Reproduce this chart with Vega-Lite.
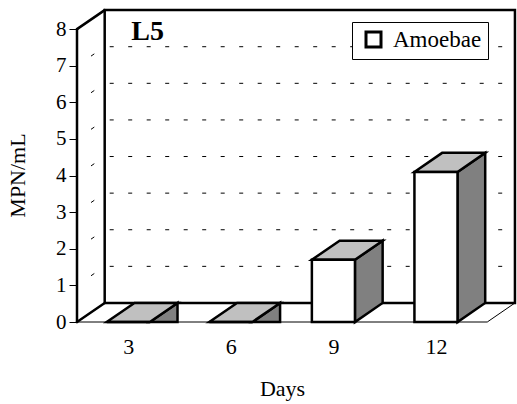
{
  "$schema": "https://vega.github.io/schema/vega-lite/v6.json",
  "width": 440,
  "height": 313,
  "autosize": "none",
  "padding": {"left": 77, "top": 9, "right": 0, "bottom": 82},
  "background": "white",
  "config": {
    "view": {"stroke": null},
    "font": "Liberation Serif",
    "axisY": {"tickCount": 9, "labelOverlap": false, "labelFlush": false, "format": "d"}
  },
  "datasets": {
    "amoebae": [
      {"day": "3", "mpn": 0},
      {"day": "6", "mpn": 0},
      {"day": "9", "mpn": 1.7},
      {"day": "12", "mpn": 4.1}
    ],
    "levels": [
      {"level": 1}, {"level": 2}, {"level": 3}, {"level": 4},
      {"level": 5}, {"level": 6}, {"level": 7}
    ]
  },
  "layer": [
    {
      "data": {"name": "levels"},
      "transform": [{"calculate": "datum.level + 0.52", "as": "gy"}],
      "mark": {"type": "rule", "color": "black", "strokeWidth": 1, "strokeDash": [4, 14.5], "strokeDashOffset": -5},
      "encoding": {
        "x": {"datum": 0.27, "type": "quantitative", "scale": {"domain": [0, 4.29], "nice": false, "zero": false}},
        "x2": {"datum": 4.27},
        "y": {
          "field": "gy", "type": "quantitative",
          "scale": {"domain": [0, 8.55], "nice": false, "zero": false},
          "axis": {
            "title": "MPN/mL", "values": [0, 1, 2, 3, 4, 5, 6, 7, 8], "format": "d", "tickCount": 9,
            "domain": false, "grid": false, "ticks": true, "tickSize": 8, "tickColor": "black", "tickWidth": 1,
            "labelPadding": 3, "labelFont": "Liberation Serif", "labelFontSize": 21, "labelColor": "black",
            "labelFlush": false, "labelOverlap": false,
            "titleFont": "Liberation Serif", "titleFontSize": 22, "titleFontWeight": "normal", "titleColor": "black",
            "titleAngle": 270, "titleX": -60, "titleY": 166, "titleAlign": "center", "titleBaseline": "middle"
          }
        }
      }
    },
    {
      "data": {"name": "levels"},
      "transform": [{"calculate": "datum.level + 0.52", "as": "gy"}],
      "mark": {"type": "rule", "color": "black", "strokeWidth": 1, "strokeDash": [4, 60], "strokeDashOffset": -17},
      "encoding": {
        "x": {"datum": 0, "type": "quantitative", "scale": {"domain": [0, 4.29], "nice": false, "zero": false}},
        "x2": {"datum": 0.27},
        "y": {"field": "level", "type": "quantitative", "scale": {"domain": [0, 8.55], "nice": false, "zero": false}},
        "y2": {"field": "gy"}
      }
    },
    {
      "data": {"values": [{}]},
      "mark": {"type": "rect", "fillOpacity": 0, "stroke": "black", "strokeWidth": 2.5},
      "encoding": {
        "x": {"datum": 0.27, "type": "quantitative", "scale": {"domain": [0, 4.29], "nice": false, "zero": false}},
        "x2": {"datum": 4.27},
        "y": {"datum": 0.52, "type": "quantitative", "scale": {"domain": [0, 8.55], "nice": false, "zero": false}},
        "y2": {"datum": 8.52}
      }
    },
    {
      "data": {"values": [{}]},
      "mark": {"type": "rule", "color": "black", "strokeWidth": 2.5, "strokeCap": "round"},
      "encoding": {
        "x": {"datum": 0, "type": "quantitative", "scale": {"domain": [0, 4.29], "nice": false, "zero": false}},
        "y": {"datum": 0, "type": "quantitative", "scale": {"domain": [0, 8.55], "nice": false, "zero": false}},
        "y2": {"datum": 8}
      }
    },
    {
      "data": {"values": [{}]},
      "mark": {"type": "rule", "color": "black", "strokeWidth": 2.5, "strokeCap": "round"},
      "encoding": {
        "x": {"datum": 0, "type": "quantitative", "scale": {"domain": [0, 4.29], "nice": false, "zero": false}},
        "x2": {"datum": 0.27},
        "y": {"datum": 8, "type": "quantitative", "scale": {"domain": [0, 8.55], "nice": false, "zero": false}},
        "y2": {"datum": 8.52}
      }
    },
    {
      "data": {"values": [{}]},
      "mark": {"type": "rule", "color": "black", "strokeWidth": 2.5, "strokeCap": "round"},
      "encoding": {
        "x": {"datum": 0, "type": "quantitative", "scale": {"domain": [0, 4.29], "nice": false, "zero": false}},
        "x2": {"datum": 0.27},
        "y": {"datum": 0, "type": "quantitative", "scale": {"domain": [0, 8.55], "nice": false, "zero": false}},
        "y2": {"datum": 0.52}
      }
    },
    {
      "data": {"values": [{}]},
      "mark": {"type": "rule", "color": "black", "strokeWidth": 1},
      "encoding": {
        "x": {"datum": 0, "type": "quantitative", "scale": {"domain": [0, 4.29], "nice": false, "zero": false}},
        "x2": {"datum": 4},
        "y": {"datum": 0, "type": "quantitative", "scale": {"domain": [0, 8.55], "nice": false, "zero": false}}
      }
    },
    {
      "data": {"values": [{}]},
      "mark": {"type": "rule", "color": "black", "strokeWidth": 1},
      "encoding": {
        "x": {"datum": 4, "type": "quantitative", "scale": {"domain": [0, 4.29], "nice": false, "zero": false}},
        "x2": {"datum": 4.27},
        "y": {"datum": 0, "type": "quantitative", "scale": {"domain": [0, 8.55], "nice": false, "zero": false}},
        "y2": {"datum": 0.52}
      }
    },
    {
      "data": {"name": "amoebae"},
      "transform": [
        {"window": [{"op": "row_number", "as": "idx"}]},
        {"calculate": "datum.idx - 0.29", "as": "R"},
        {"calculate": "[0, 1]", "as": "t"},
        {"flatten": ["t"]},
        {"calculate": "datum.R + datum.t * 0.27", "as": "sx"},
        {"calculate": "datum.mpn > 0 ? datum.t * 0.52 : 0", "as": "sy"},
        {"calculate": "datum.mpn + datum.t * 0.52", "as": "sy2"}
      ],
      "mark": {"type": "area", "orient": "vertical", "fill": "#808080", "stroke": "black", "strokeWidth": 2.5, "strokeJoin": "miter"},
      "encoding": {
        "x": {"field": "sx", "type": "quantitative", "scale": {"domain": [0, 4.29], "nice": false, "zero": false}},
        "y": {"field": "sy2", "type": "quantitative", "stack": null, "scale": {"domain": [0, 8.55], "nice": false, "zero": false}},
        "y2": {"field": "sy"},
        "detail": {"field": "day", "type": "nominal"}
      }
    },
    {
      "data": {"name": "amoebae"},
      "transform": [
        {"window": [{"op": "row_number", "as": "idx"}]},
        {"calculate": "datum.idx - 0.71", "as": "L"},
        {"calculate": "datum.idx - 0.29", "as": "R"},
        {"calculate": "[0, 1]", "as": "t"},
        {"flatten": ["t"]},
        {"calculate": "datum.L + datum.t * 0.27", "as": "tx"},
        {"calculate": "datum.R + datum.t * 0.27", "as": "tx2"},
        {"calculate": "datum.mpn + datum.t * 0.52", "as": "ty"}
      ],
      "mark": {"type": "area", "orient": "horizontal", "fill": "#C0C0C0", "stroke": "black", "strokeWidth": 2.5, "strokeJoin": "miter"},
      "encoding": {
        "y": {"field": "ty", "type": "quantitative", "scale": {"domain": [0, 8.55], "nice": false, "zero": false}},
        "x": {"field": "tx", "type": "quantitative", "stack": null, "scale": {"domain": [0, 4.29], "nice": false, "zero": false}},
        "x2": {"field": "tx2"},
        "detail": {"field": "day", "type": "nominal"}
      }
    },
    {
      "data": {"name": "amoebae"},
      "transform": [
        {"window": [{"op": "row_number", "as": "idx"}]},
        {"calculate": "datum.idx - 0.71", "as": "L"},
        {"calculate": "datum.idx - 0.29", "as": "R"}
      ],
      "mark": {"type": "rect", "stroke": "black", "strokeWidth": 2.5, "strokeJoin": "miter"},
      "encoding": {
        "x": {
          "field": "L", "type": "quantitative",
          "scale": {"domain": [0, 4.29], "nice": false, "zero": false},
          "axis": {
            "title": "Days", "values": [0.5, 1.5, 2.5, 3.5],
            "labelExpr": "['3','6','9','12'][floor(datum.value)]",
            "ticks": false, "domain": false, "grid": false,
            "labelFont": "Liberation Serif", "labelFontSize": 22, "labelColor": "black",
            "labelBaseline": "alphabetic", "labelPadding": 31, "labelFlush": false, "labelOverlap": false,
            "titleFont": "Liberation Serif", "titleFontSize": 22, "titleFontWeight": "normal", "titleColor": "black",
            "titleX": 205, "titleY": 73, "titleBaseline": "alphabetic", "titleAlign": "center"
          }
        },
        "x2": {"field": "R"},
        "y": {
          "field": "mpn", "type": "quantitative",
          "scale": {"domain": [0, 8.55], "nice": false, "zero": false},
          "axis": {
            "title": "MPN/mL", "values": [0, 1, 2, 3, 4, 5, 6, 7, 8], "format": "d", "tickCount": 9,
            "domain": false, "grid": false, "ticks": true, "tickSize": 8, "tickColor": "black", "tickWidth": 1,
            "labelPadding": 3, "labelFont": "Liberation Serif", "labelFontSize": 21, "labelColor": "black",
            "labelFlush": false, "labelOverlap": false,
            "titleFont": "Liberation Serif", "titleFontSize": 22, "titleFontWeight": "normal", "titleColor": "black",
            "titleAngle": 270, "titleX": -60, "titleY": 166, "titleAlign": "center", "titleBaseline": "middle"
          }
        },
        "y2": {"datum": 0},
        "fill": {
          "datum": "Amoebae", "type": "nominal",
          "scale": {"range": ["#ffffff"]},
          "legend": {
            "title": null, "orient": "none", "legendX": 275, "legendY": 13,
            "symbolType": "square", "symbolSize": 225, "symbolStrokeColor": "black", "symbolStrokeWidth": 3,
            "symbolOffset": 4, "labelOffset": 8,
            "labelFont": "Liberation Serif", "labelFontSize": 23, "labelColor": "black",
            "padding": 6, "strokeColor": "black", "fillColor": "white", "cornerRadius": 0
          }
        }
      }
    },
    {
      "data": {"values": [{}]},
      "mark": {"type": "text", "text": "L5", "font": "Liberation Serif", "fontSize": 28, "fontWeight": "bold", "align": "left", "baseline": "alphabetic", "color": "black"},
      "encoding": {
        "x": {"datum": 0.53, "type": "quantitative", "scale": {"domain": [0, 4.29], "nice": false, "zero": false}},
        "y": {"datum": 7.7, "type": "quantitative", "scale": {"domain": [0, 8.55], "nice": false, "zero": false}}
      }
    }
  ]
}
